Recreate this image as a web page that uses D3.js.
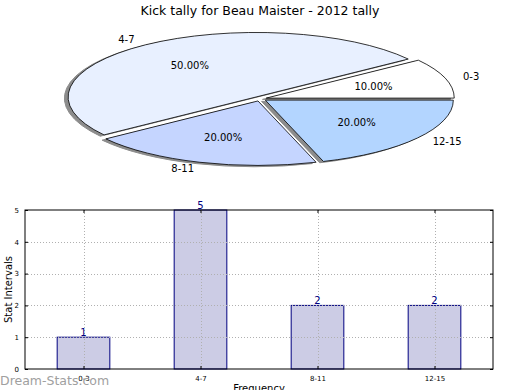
<!DOCTYPE html>
<html>
<head>
<meta charset="utf-8">
<script src="https://cdn.jsdelivr.net/npm/d3@7"></script>
<style>
  body { margin: 0; background: #fff; }
  text { font-family: "DejaVu Sans", sans-serif; }
</style>
</head>
<body>
<div id="chart"></div>
<script>
// data
var categories = ["0-3", "4-7", "8-11", "12-15"];
var counts = [1, 5, 2, 2];
var pieColors = ["#ffffff", "#e8f0ff", "#c5d5ff", "#b3d5ff"];
var yTicks = [0, 1, 2, 3, 4, 5];
var chartTitle = "Kick tally for Beau Maister - 2012 tally";

var width = 520, height = 390;

var svg = d3.select("#chart").append("svg")
  .attr("width", width)
  .attr("height", height);

svg.append("rect")
  .attr("width", width).attr("height", height)
  .attr("fill", "#fff");

svg.append("text")
  .attr("x", 260).attr("y", 15)
  .attr("text-anchor", "middle")
  .attr("font-size", 12.5)
  .text(chartTitle);

/////////
// PIE //
/////////

// squashed pie, matplotlib style: starts at east, goes counter clockwise
var pie = { cx: 260, cy: 98.8, rx: 188, ry: 64.5, explode: 0.035 };

var pieGen = d3.pie().sort(null)
  .startAngle(Math.PI / 2)
  .endAngle(Math.PI / 2 - 2 * Math.PI);

var arcs = pieGen(counts);
var unitArc = d3.arc().innerRadius(0).outerRadius(1);
var total = d3.sum(counts);

// offset of a point along a slice's middle direction
function along(d, k) {
  var a = (d.startAngle + d.endAngle) / 2;
  return [pie.cx + k * pie.rx * Math.sin(a), pie.cy - k * pie.ry * Math.cos(a)];
}

var pieG = svg.append("g");

// shadows under everything
pieG.selectAll(".shadow")
  .data(arcs)
  .enter().append("path")
  .attr("class", "shadow")
  .attr("d", unitArc)
  .attr("transform", (d) => {
    var c = along(d, pie.explode);
    return "translate(" + (c[0] - 0.02 * pie.rx) + "," + (c[1] + 0.02 * pie.ry) + ") scale(" + pie.rx + "," + pie.ry + ")";
  })
  .attr("fill", "#8c8c8c")
  .attr("stroke", "#8c8c8c")
  .attr("stroke-width", 1)
  .attr("vector-effect", "non-scaling-stroke");

pieG.selectAll(".wedge")
  .data(arcs)
  .enter().append("path")
  .attr("class", "wedge")
  .attr("d", unitArc)
  .attr("transform", (d) => {
    var c = along(d, pie.explode);
    return "translate(" + c[0] + "," + c[1] + ") scale(" + pie.rx + "," + pie.ry + ")";
  })
  .attr("fill", (d, i) => pieColors[i])
  .attr("stroke", "#000")
  .attr("stroke-width", 0.8)
  .attr("vector-effect", "non-scaling-stroke");

// category labels, left or right aligned like matplotlib
pieG.selectAll(".plabel")
  .data(arcs)
  .enter().append("text")
  .attr("class", "plabel")
  .attr("x", (d) => along(d, pie.explode + 1.1)[0])
  .attr("y", (d) => along(d, pie.explode + 1.1)[1])
  .attr("dy", "0.35em")
  .attr("font-size", 10)
  .attr("text-anchor", (d) => Math.sin((d.startAngle + d.endAngle) / 2) > 0 ? "start" : "end")
  .text((d, i) => categories[i]);

pieG.selectAll(".pct")
  .data(arcs)
  .enter().append("text")
  .attr("class", "pct")
  .attr("x", (d) => along(d, pie.explode + 0.6)[0])
  .attr("y", (d) => along(d, pie.explode + 0.6)[1])
  .attr("dy", "0.35em")
  .attr("font-size", 10)
  .attr("text-anchor", "middle")
  .text((d) => (100 * d.value / total).toFixed(2) + "%");

/////////
// BAR //
/////////

var box = { left: 25, right: 493, top: 210, bottom: 369 };

var x = d3.scaleLinear().domain([-0.5, 3.5]).range([box.left, box.right]);
var y = d3.scaleLinear().domain([0, 5]).range([box.bottom, box.top]);
var barW = 0.45;

var barG = svg.append("g");

barG.selectAll(".bar")
  .data(counts)
  .enter().append("rect")
  .attr("class", "bar")
  .attr("x", (d, i) => x(i - barW / 2))
  .attr("width", x(barW) - x(0))
  .attr("y", (d) => y(d))
  .attr("height", (d) => y(0) - y(d))
  .attr("fill", "#cccce5")
  .attr("stroke", "#000080")
  .attr("stroke-width", 1);

// dotted grid drawn over bars
var grid = barG.append("g")
  .attr("stroke", "#b0b0b0")
  .attr("stroke-width", 1)
  .attr("stroke-dasharray", "1,2");

grid.selectAll(".hgrid")
  .data(yTicks.slice(1, -1))
  .enter().append("line")
  .attr("x1", box.left).attr("x2", box.right)
  .attr("y1", (d) => Math.round(y(d)) + 0.5)
  .attr("y2", (d) => Math.round(y(d)) + 0.5);

grid.selectAll(".vgrid")
  .data(categories)
  .enter().append("line")
  .attr("x1", (d, i) => Math.round(x(i)) + 0.5)
  .attr("x2", (d, i) => Math.round(x(i)) + 0.5)
  .attr("y1", box.top).attr("y2", box.bottom);

// ticks inside on all four sides
var yAxisL = d3.axisLeft(y).tickValues(yTicks).tickSize(-3).tickPadding(6).tickFormat(d3.format("d"));
var yAxisR = d3.axisRight(y).tickValues(yTicks).tickSize(-3).tickFormat("");
var xAxisB = d3.axisBottom(x).tickValues(d3.range(categories.length))
  .tickSize(-3).tickPadding(7).tickFormat((i) => categories[i]);
var xAxisT = d3.axisTop(x).tickValues(d3.range(categories.length))
  .tickSize(-3).tickFormat("");

function styleAxis(g) {
  g.select(".domain").remove();
  g.selectAll("line").attr("stroke", "#000");
  g.selectAll("text").attr("font-size", 7).attr("fill", "#000")
    .attr("font-family", "DejaVu Sans, sans-serif");
}

barG.append("g").attr("transform", "translate(" + box.left + ",0)").call(yAxisL).call(styleAxis);
barG.append("g").attr("transform", "translate(" + box.right + ",0)").call(yAxisR).call(styleAxis);
barG.append("g").attr("transform", "translate(0," + box.bottom + ")").call(xAxisB).call(styleAxis);
barG.append("g").attr("transform", "translate(0," + box.top + ")").call(xAxisT).call(styleAxis);

barG.append("rect")
  .attr("x", box.left).attr("y", box.top)
  .attr("width", box.right - box.left).attr("height", box.bottom - box.top)
  .attr("fill", "none")
  .attr("stroke", "#000")
  .attr("stroke-width", 1);

// value labels on top of bars
barG.selectAll(".val")
  .data(counts)
  .enter().append("text")
  .attr("class", "val")
  .attr("x", (d, i) => x(i))
  .attr("y", (d) => y(d) - 1)
  .attr("text-anchor", "middle")
  .attr("font-size", 10)
  .attr("fill", "#000080")
  .text((d) => d);

svg.append("text")
  .attr("transform", "translate(12," + ((box.top + box.bottom) / 2) + ") rotate(-90)")
  .attr("text-anchor", "middle")
  .attr("font-size", 10)
  .text("Stat Intervals");

svg.append("text")
  .attr("x", (box.left + box.right) / 2).attr("y", 392)
  .attr("text-anchor", "middle")
  .attr("font-size", 10)
  .text("Frequency");

// watermark
svg.append("text")
  .attr("x", 0).attr("y", 385)
  .attr("font-size", 12.5)
  .attr("fill", "#a0a0a0")
  .text("Dream-Stats.com");
</script>
</body>
</html>
